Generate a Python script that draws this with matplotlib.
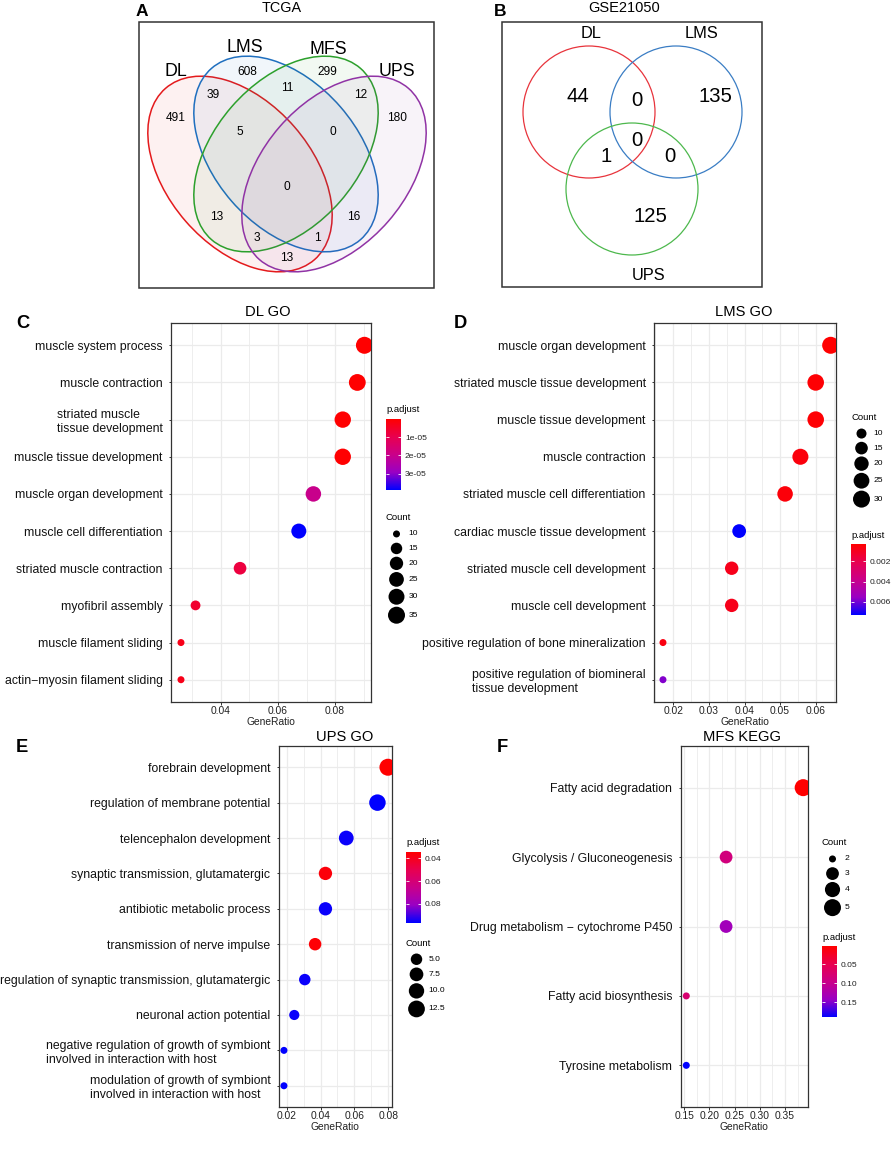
import numpy as np
import matplotlib
matplotlib.use("Agg")
import matplotlib.pyplot as plt
from matplotlib.patches import Ellipse, Circle, Rectangle
from matplotlib.colors import LinearSegmentedColormap, Normalize

plt.rcParams["font.family"] = ["Liberation Sans", "DejaVu Sans"]

# ---------------- data ----------------
# A: TCGA four-set Venn
tcga_sets = ["DL", "LMS", "MFS", "UPS"]
# regions: DL, LMS, MFS, UPS, DL&LMS, LMS&MFS, MFS&UPS, DL&LMS&MFS,
#          LMS&MFS&UPS, all, DL&MFS, LMS&UPS, DL&MFS&UPS, DL&LMS&UPS, DL&UPS
tcga_counts = [491, 608, 299, 180, 39, 11, 12, 5, 0, 0, 13, 16, 3, 1, 13]

# B: GSE21050 three-set Venn
gse_sets = ["DL", "LMS", "UPS"]
# regions: DL, DL&LMS, LMS, all, DL&UPS, LMS&UPS, UPS
gse_counts = [44, 0, 135, 0, 1, 0, 125]

# C: DL GO
dl_terms = ["muscle system process", "muscle contraction",
            "striated muscle\ntissue development", "muscle tissue development",
            "muscle organ development", "muscle cell differentiation",
            "striated muscle contraction", "myofibril assembly",
            "muscle filament sliding", "actin\u2212myosin filament sliding"]
dl_ratio = [0.0903, 0.0878, 0.0827, 0.0827, 0.0724, 0.0673, 0.0467, 0.0311, 0.0260, 0.0260]
dl_count = [35, 34, 32, 32, 28, 26, 18, 12, 10, 10]
dl_padj = [1e-07, 2e-07, 4e-07, 4e-07, 2.0e-05, 3.9e-05, 8e-06, 6e-06, 3e-06, 3e-06]

# D: LMS GO
lms_terms = ["muscle organ development", "striated muscle tissue development",
             "muscle tissue development", "muscle contraction",
             "striated muscle cell differentiation", "cardiac muscle tissue development",
             "striated muscle cell development", "muscle cell development",
             "positive regulation of bone mineralization",
             "positive regulation of biomineral\ntissue development"]
lms_ratio = [0.0642, 0.0600, 0.0600, 0.0557, 0.0514, 0.0385, 0.0364, 0.0364, 0.0171, 0.0171]
lms_count = [30, 28, 28, 26, 24, 18, 17, 17, 8, 8]
lms_padj = [0.0003, 0.0004, 0.0004, 0.0006, 0.0005, 0.0073, 0.0009, 0.0009, 0.0007, 0.0058]

# E: UPS GO
ups_terms = ["forebrain development", "regulation of membrane potential",
             "telencephalon development", "synaptic transmission, glutamatergic",
             "antibiotic metabolic process", "transmission of nerve impulse",
             "regulation of synaptic transmission, glutamatergic",
             "neuronal action potential",
             "negative regulation of growth of symbiont\ninvolved in interaction with host",
             "modulation of growth of symbiont\ninvolved in interaction with host"]
ups_ratio = [0.0798, 0.0736, 0.0552, 0.0429, 0.0429, 0.0368, 0.0307, 0.0245, 0.0184, 0.0184]
ups_count = [13, 12, 9, 7, 7, 6, 5, 4, 3, 3]
ups_padj = [0.034, 0.097, 0.096, 0.036, 0.096, 0.035, 0.096, 0.096, 0.097, 0.097]

# F: MFS KEGG
mfs_terms = ["Fatty acid degradation", "Glycolysis / Gluconeogenesis",
             "Drug metabolism \u2212 cytochrome P450", "Fatty acid biosynthesis",
             "Tyrosine metabolism"]
mfs_ratio = [0.386, 0.233, 0.233, 0.154, 0.154]
mfs_count = [5, 3, 3, 2, 2]
mfs_padj = [0.002, 0.085, 0.135, 0.075, 0.19]

# ---------------- figure ----------------
W, H = 893, 1166
fig = plt.figure(figsize=(W / 100, H / 100), dpi=100)
fig.patch.set_facecolor("white")


def box(x0, y0, x1, y1):
    return [x0 / W, 1 - y1 / H, (x1 - x0) / W, (y1 - y0) / H]


# overlay axes in pixel coordinates for venns and legends
ov = fig.add_axes([0, 0, 1, 1], zorder=5)
ov.set_xlim(0, W)
ov.set_ylim(H, 0)
ov.axis("off")


def txt(x, y, s, **kw):
    kw.setdefault("ha", "center")
    kw.setdefault("va", "center")
    ov.text(x, y, s, **kw)


cmap = LinearSegmentedColormap.from_list(
    "padj", ["#FF0000", "#E8004F", "#CA0089", "#9A00C3", "#0000FF"])

# panel letters
for lab, (x, y) in zip("ABCDEF", [(142, 12), (500, 12), (23, 323), (460, 323), (22, 748), (502, 748)]):
    txt(x, y, lab, fontsize=12.5 if lab in "AB" else 13.2, fontweight="bold")

# ---------- A: TCGA ----------
ov.add_patch(Rectangle((139, 22), 295, 266, fill=False, ec="#333333", lw=1.1))
txt(282, 8, "TCGA", fontsize=10.4)
venn4_cols = ["#E41A1C", "#1F6FBF", "#2CA02C", "#9033A5"]
venn4_geom = [((240, 174), 49), ((286, 154), 49), ((286, 154), -49), ((334, 174), -49)]
for (c, ang), col in zip(venn4_geom, venn4_cols):
    ov.add_patch(Ellipse(c, 227, 144, angle=ang, fc=col, alpha=0.06, ec="none"))
    ov.add_patch(Ellipse(c, 227, 144, angle=ang, fill=False, ec=col, lw=1.1))
for s, (x, y) in zip(tcga_sets, [(176, 72), (245, 48), (328, 49), (397, 72)]):
    txt(x, y, s, fontsize=12.8)
tcga_pos = [(176, 118), (247, 72), (327, 72), (397, 118), (213, 95), (287, 88),
            (361, 95), (240, 132), (333, 132), (287, 187), (217, 217), (354, 217),
            (257, 238), (317, 238), (287, 258)]
for n, (x, y) in zip(tcga_counts, tcga_pos):
    txt(x, y, str(n), fontsize=8.6)

# ---------- B: GSE21050 ----------
ov.add_patch(Rectangle((502, 22), 260, 265, fill=False, ec="#333333", lw=1.1))
txt(624, 8, "GSE21050", fontsize=10.5)
venn3_cols = ["#E8343C", "#3A7DC4", "#4DB84D"]
for c, col in zip([(589, 112), (676, 112), (632, 189)], venn3_cols):
    ov.add_patch(Circle(c, 66, fill=False, ec=col, lw=0.9))
for s, (x, y) in zip(gse_sets, [(591, 34), (702, 34), (649, 276)]):
    txt(x, y, s, fontsize=11.8)
gse_pos = [(578, 96), (637, 101), (715, 96), (637, 141), (606, 157), (670, 157), (650, 217)]
for n, (x, y) in zip(gse_counts, gse_pos):
    txt(x, y, str(n), fontsize=14.6)


# ---------- dot plots ----------
def dotplot(rect, title, tpos, terms, ratio, count, padj, xlim, major, minor, fmt):
    ax = fig.add_axes(box(*rect))
    n = len(terms)
    y = np.arange(n)
    cnt = np.array(count, dtype=float)
    d = 7 + 10 * np.sqrt((cnt - cnt.min()) / (cnt.max() - cnt.min()))
    norm = Normalize(min(padj), max(padj))
    sc = ax.scatter(ratio, y, s=(d * 0.72) ** 2, c=padj, cmap=cmap, norm=norm,
                    edgecolors="none", zorder=3)
    ax.set_xlim(xlim)
    ax.set_ylim(n - 1 + 0.6, -0.6)
    ax.set_yticks(y)
    ax.set_yticklabels(terms, fontsize=8.85, color="#111111", multialignment="left")
    ax.set_xticks(major)
    ax.set_xticklabels([fmt.format(v) for v in major], fontsize=7.4, color="#222222")
    ax.set_xticks(minor, minor=True)
    ax.grid(which="major", color="#EBEBEB", lw=0.9)
    ax.grid(which="minor", axis="x", color="#EBEBEB", lw=0.6)
    ax.set_axisbelow(True)
    ax.tick_params(which="major", length=1.8, width=0.7, color="#333333")
    ax.tick_params(axis="y", pad=4.2)
    ax.tick_params(axis="x", pad=1.2)
    ax.tick_params(which="minor", length=0)
    for sp in ax.spines.values():
        sp.set_color("#333333")
        sp.set_linewidth(0.9)
    ax.set_xlabel("GeneRatio", fontsize=7.4, labelpad=0.5, color="#222222")
    txt(tpos[0], tpos[1], title, fontsize=10.6)
    return sc


def size_legend(x0, yt, count, breaks, labels):
    txt(x0, yt, "Count", fontsize=6.8, ha="left")
    cnt = np.array(count, dtype=float)
    b = np.array(breaks, dtype=float)
    d = 7 + 10 * np.sqrt((b - cnt.min()) / (cnt.max() - cnt.min()))
    h = np.maximum(14.5, d + 2)
    yc = yt + 9 + h[0] / 2 + np.concatenate([[0], np.cumsum((h[:-1] + h[1:]) / 2)])
    ov.scatter(np.full(len(b), x0 + 10.5), yc, s=(d * 0.72) ** 2, c="black", edgecolors="none")
    for yy, lab in zip(yc, labels):
        txt(x0 + 22.5, yy, lab, fontsize=6.1, ha="left")


def color_legend(sc, x0, yt, ticks, labels):
    txt(x0, yt, "p.adjust", fontsize=6.8, ha="left")
    cax = fig.add_axes(box(x0, yt + 9, x0 + 14.7, yt + 9 + 71))
    cb = fig.colorbar(sc, cax=cax)
    cax.invert_yaxis()
    cb.outline.set_visible(False)
    cb.set_ticks(ticks)
    cb.set_ticklabels(labels)
    cax.tick_params(direction="in", color="white", length=2.5, width=0.6,
                    left=True, right=True, labelsize=6.1, labelcolor="#222222", pad=3)


sc = dotplot((171, 323, 371, 702), "DL GO", (268, 312), dl_terms, dl_ratio, dl_count, dl_padj,
             (0.0225, 0.0926), [0.04, 0.06, 0.08], [0.03, 0.05, 0.07, 0.09], "{:.2f}")
color_legend(sc, 386, 410, [1e-05, 2e-05, 3e-05], ["1e-05", "2e-05", "3e-05"])
size_legend(386, 517.7, dl_count, [10, 15, 20, 25, 30, 35], ["10", "15", "20", "25", "30", "35"])

sc = dotplot((654, 323, 836, 702), "LMS GO", (744, 312), lms_terms, lms_ratio, lms_count, lms_padj,
             (0.01458, 0.0657), [0.02, 0.03, 0.04, 0.05, 0.06],
             [0.015, 0.025, 0.035, 0.045, 0.055, 0.065], "{:.2f}")
size_legend(851, 417.3, lms_count, [10, 15, 20, 25, 30], ["10", "15", "20", "25", "30"])
color_legend(sc, 851, 535, [0.002, 0.004, 0.006], ["0.002", "0.004", "0.006"])

sc = dotplot((278.7, 746, 392, 1107), "UPS GO", (345, 736.7), ups_terms, ups_ratio, ups_count, ups_padj,
             (0.0153, 0.0822), [0.02, 0.04, 0.06, 0.08], [0.03, 0.05, 0.07], "{:.2f}")
color_legend(sc, 406, 842.7, [0.04, 0.06, 0.08], ["0.04", "0.06", "0.08"])
size_legend(406, 943, ups_count, [5, 7.5, 10, 12.5], ["5.0", "7.5", "10.0", "12.5"])

sc = dotplot((680.7, 746, 808, 1107), "MFS KEGG", (741.7, 736.7), mfs_terms, mfs_ratio, mfs_count, mfs_padj,
             (0.1429, 0.3956), [0.15, 0.20, 0.25, 0.30, 0.35],
             [0.175, 0.225, 0.275, 0.325, 0.375], "{:.2f}")
size_legend(822, 842.7, mfs_count, [2, 3, 4, 5], ["2", "3", "4", "5"])
color_legend(sc, 822, 937.3, [0.05, 0.10, 0.15], ["0.05", "0.10", "0.15"])

fig.savefig("out.png", dpi=100)
